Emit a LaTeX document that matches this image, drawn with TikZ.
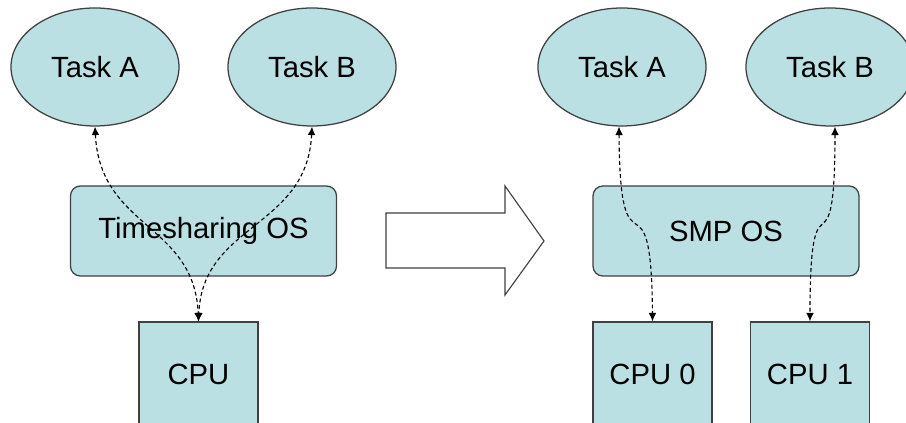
\documentclass[tikz,border=0pt]{standalone}
\usepackage{fontspec}
\setmainfont{Liberation Sans}
\usetikzlibrary{shapes.geometric, arrows.meta}

\definecolor{boxfill}{RGB}{187,224,227}
\definecolor{boxline}{RGB}{64,64,64}

\begin{document}
\begin{tikzpicture}[
        font=\fontsize{20.8}{24}\selectfont,
        task/.style={ellipse, draw=boxline, fill=boxfill, line width=0.9pt, minimum width=4.2cm, minimum height=2.95cm, inner sep=0pt},
        osbox/.style={rectangle, rounded corners=7pt, draw=boxline, fill=boxfill, line width=0.9pt, minimum width=6.65cm, minimum height=2.25cm},
        cpubox/.style={rectangle, draw=boxline, fill=boxfill, line width=0.9pt, minimum width=2.975cm, minimum height=2.6cm},
        link/.style={dash pattern=on 2.8pt off 1.9pt, line width=0.8pt, {Latex[length=6pt,width=5.5pt]}-{Latex[length=6pt,width=5.5pt]}}
    ]
        % Page frame
        \useasboundingbox (0, 0) rectangle (22.65, 10.575);
        \clip (0, 0) rectangle (22.65, 10.575);

        % Timesharing side
        \node[task] (tA1) at (2.375, 8.9) {Task A};
        \node[task] (tB1) at (7.8, 8.9) {Task B};
        \node[osbox] (os1) at (5.0875, 4.8) {Timesharing OS};
        \node[cpubox] (cpu) at (4.9625, 1.225) {CPU};

        % Big arrow
        \draw[boxline, line width=0.8pt, fill=white] (9.65, 5.25) -- (12.625, 5.25) -- (12.625, 5.925) -- (13.6, 4.55) -- (12.625, 3.2) -- (12.625, 3.875) -- (9.65, 3.875) -- cycle;

        % SMP side
        \node[task] (tA2) at (15.55, 8.9) {Task A};
        \node[task] (tB2) at (20.75, 8.9) {Task B};
        \node[osbox] (os2) at (18.15, 4.8) {SMP OS};
        \node[cpubox] (cpu0) at (16.3125, 1.225) {CPU 0};
        \node[cpubox] (cpu1) at (20.25, 1.225) {CPU 1};

        % Draw links
        \draw[link] (tA1.south) .. controls +(0.125, -2.55) and +(-0.1, 2.45) .. (cpu.north);
        \draw[link] (tB1.south) .. controls +(-0.125, -2.55) and +(0.1, 2.45) .. (cpu.north);
        \draw[link] ([xshift=-0.075cm]tA2.south) .. controls +(0.025, -4.1) and +(-0.025, 4.1) .. (cpu0.north);
        \draw[link] ([xshift=0.125cm]tB2.south) .. controls +(0, -4.1) and +(0, 4.1) .. (cpu1.north);
    \end{tikzpicture}
\end{document}
